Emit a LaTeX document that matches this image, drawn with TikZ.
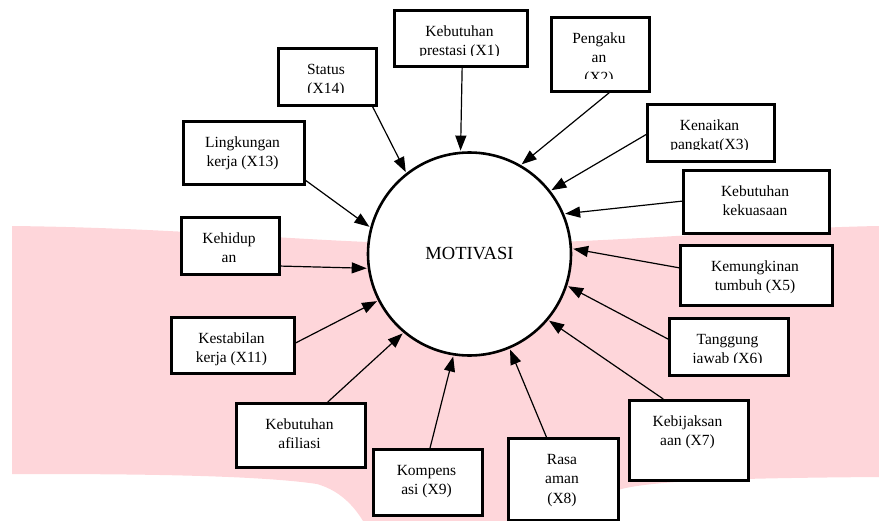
\documentclass[tikz,border=0pt]{standalone}
\usepackage{fontspec}
\setmainfont{Liberation Serif}
\usetikzlibrary{arrows.meta,calc}
\definecolor{bgpink}{RGB}{254,214,218}
\tikzset{
  boxst/.style={draw=black, line width=2.6pt, fill=none, inner sep=0pt},
  txt/.style={align=center, inner sep=0pt, font=\fontsize{15.5}{19.5}\selectfont},
  arr/.style={line width=1.2pt, -{Triangle[length=15pt,width=11pt]}, shorten >=1pt},
  circst/.style={circle, draw=black, line width=2.6pt, fill=white, inner sep=0pt, minimum size=203pt, font=\fontsize{18.5}{22}\selectfont}
}
% #1 name, #2 x1, #3 y1, #4 x2, #5 y2, #6 clip y, #7 number of lines, #8 text
\newcommand\mybox[8]{%
  \fill[white] (#2,#3) rectangle (#4,#5);
  \begin{scope}
    \clip (#2,#3) rectangle (#4,#6);
    \node[txt, anchor=base] at ({(#2+#4)/2},{#3+27+(#7-1)*19.5}) {#8};
  \end{scope}
  \node[boxst, anchor=north west, minimum width={(#4-#2)*1pt}, minimum height={(#5-#3)*1pt}] (#1) at (#2,#3) {};
}
\begin{document}
\begin{tikzpicture}[x=1pt,y=-1pt]
\useasboundingbox (0,0) rectangle (879,520);
% pink background
\begin{scope}
  \clip (0,0) rectangle (879,520);
  \fill[bgpink] (12,226) .. controls (200,228) and (330,245) .. (470,244)
     .. controls (620,243) and (760,228) .. (879,226) -- (879,477)
     .. controls (750,478) and (650,480) .. (618,490)
     .. controls (600,500) and (600,530) .. (590,560) -- (380,560)
     .. controls (370,530) and (355,495) .. (317,484)
     .. controls (250,474) and (100,474) .. (12,474) -- cycle;
\end{scope}
% central circle
\node[circst] (m) at (469.5,254) {MOTIVASI};
% boxes
\mybox{b1}{393}{9}{526}{65}{55}{2}{Kebutuhan\\prestasi (X1)}
\mybox{b2}{277}{47}{375}{104}{92}{2}{Status\\(X14)}
\mybox{b3}{550}{16}{648}{90}{78}{3}{Pengaku\\an\\(X2)}
\mybox{b4}{646}{103}{773}{160}{149}{2}{Kenaikan\\pangkat(X3)}
\mybox{b5}{682}{169}{828}{232}{232}{2}{Kebutuhan\\kekuasaan}
\mybox{b6}{679}{244}{831}{304}{304}{2}{Kemungkinan\\tumbuh (X5)}
\mybox{b7}{668}{317}{787}{374}{362}{2}{Tanggung\\jawab (X6)}
\mybox{b8}{628}{399}{747}{479}{479}{2}{Kebijaksan\\aan (X7)}
\mybox{b9}{507}{437}{617}{519}{519}{3}{Rasa\\aman\\(X8)}
\mybox{b10}{372}{448}{481}{514}{514}{2}{Kompens\\asi (X9)}
\mybox{b11}{235}{402}{364}{466}{466}{2}{Kebutuhan\\afiliasi}
\mybox{b12}{170}{316}{293}{372}{372}{2}{Kestabilan\\kerja (X11)}
\mybox{b13}{180}{216}{278}{273}{273}{2}{Kehidup\\an}
\mybox{b14}{182}{120}{303}{183}{183}{2}{Lingkungan\\kerja (X13)}
% arrows
\draw[arr] ($(b1.south west)!0.51!(b1.south east)$) -- (m.95.5);
\draw[arr] ($(b2.south west)!0.95!(b2.south east)$) -- (m.128.6);
\draw[arr] ($(b3.south west)!0.59!(b3.south east)$) -- (m.60);
\draw[arr] ($(b4.north west)!0.53!(b4.south west)$) -- (m.38.8);
\draw[arr] ($(b5.north west)!0.49!(b5.south west)$) -- (m.23);
\draw[arr] ($(b6.north west)!0.38!(b6.south west)$) -- (m.3.3);
\draw[arr] ($(b7.north west)!0.37!(b7.south west)$) -- (m.-18);
\draw[arr] ($(b8.north west)!0.29!(b8.north east)$) -- (m.-40);
\draw[arr] ($(b9.north west)!0.35!(b9.north east)$) -- (m.-67);
\draw[arr] ($(b10.north west)!0.52!(b10.north east)$) -- (m.-99);
\draw[arr] ($(b11.north west)!0.705!(b11.north east)$) -- (m.-130);
\draw[arr] ($(b12.north east)!0.46!(b12.south east)$) -- (m.-153);
\draw[arr] ($(b13.north east)!0.84!(b13.south east)$) -- (m.-172);
\draw[arr] ($(b14.north east)!0.92!(b14.south east)$) -- (m.165.6);
\end{tikzpicture}
\end{document}
